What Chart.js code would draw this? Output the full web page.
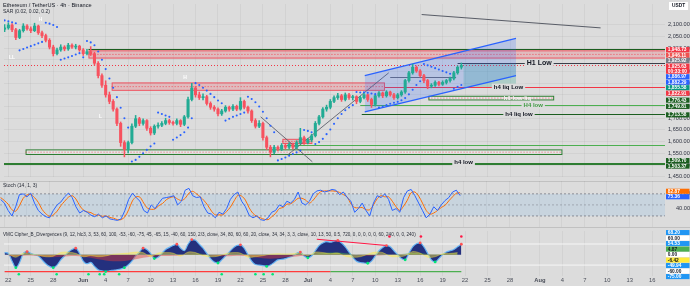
<!DOCTYPE html>
<html>
<head>
<meta charset="utf-8">
<script src="https://cdn.jsdelivr.net/npm/chart.js@4.4.0/dist/chart.umd.min.js"></script>
<style>
  html, body { margin: 0; padding: 0; background: #dcdcdc; overflow: hidden; }
  canvas { position: absolute; left: 0; display: block; }
</style>
</head>
<body>
<canvas id="priceChart" width="690" height="181" style="top:0"></canvas>
<canvas id="stochChart" width="690" height="46" style="top:181px"></canvas>
<canvas id="vmcChart" width="690" height="59" style="top:227px"></canvas>
<script>
// days counted from May 22, 12h candles from the picture
const dayTicks = [0, 3, 6, 10, 13, 16, 19, 22, 25, 28, 31, 34, 37, 40, 43, 46, 49, 52, 55, 58, 61, 64, 67, 71, 74, 77, 80, 83, 86];
const dayTickLabels = ['22', '25', '28', 'Jun', '4', '7', '10', '13', '16', '19', '22', '25', '28', 'Jul', '4', '7', '10', '13', '16', '19', '22', '25', '28', 'Aug', '4', '7', '10', '13', '16'];
const priceTicks = [1450, 1500, 1550, 1600, 1650, 1700, 1750, 1800, 1850, 1900, 1950, 2000, 2050, 2100];

const opens = [
  2080, 2086, 2098, 2078, 2045, 2074, 2094, 2082, 2074, 2094,
  2065, 2053, 2033, 2004, 1976, 1992, 2004, 1996, 2012, 2004,
  2008, 1992, 1976, 1984, 1976, 1935, 1882, 1841, 1800, 1772,
  1739, 1678, 1596, 1568, 1596, 1666, 1698, 1678, 1690, 1657,
  1637, 1666, 1670, 1678, 1690, 1682, 1678, 1690, 1674, 1706,
  1780, 1829, 1800, 1788, 1792, 1763, 1747, 1739, 1719, 1731,
  1747, 1739, 1751, 1739, 1772, 1747, 1731, 1690, 1666, 1678,
  1617, 1576, 1555, 1576, 1568, 1584, 1576, 1588, 1576, 1596,
  1617, 1596, 1608, 1625, 1678, 1706, 1739, 1747, 1772, 1788,
  1796, 1780, 1800, 1788, 1792, 1772, 1788, 1800, 1780, 1759,
  1796, 1808, 1796, 1812, 1800, 1788, 1800, 1812, 1861, 1894,
  1918, 1902, 1882, 1861, 1837, 1841, 1853, 1845, 1853, 1861,
  1870, 1894, 1918
];
const highs = [
  2100, 2108, 2104, 2084, 2080, 2104, 2100, 2090, 2106, 2098,
  2072, 2060, 2040, 2012, 2000, 2014, 2010, 2020, 2018, 2016,
  2012, 1998, 1994, 2006, 1982, 1942, 1890, 1860, 1812, 1780,
  1745, 1684, 1604, 1602, 1676, 1712, 1704, 1698, 1694, 1664,
  1672, 1680, 1686, 1700, 1696, 1688, 1698, 1694, 1712, 1790,
  1849, 1836, 1812, 1804, 1798, 1770, 1754, 1744, 1738, 1754,
  1752, 1758, 1756, 1788, 1778, 1752, 1736, 1698, 1690, 1684,
  1624, 1584, 1584, 1582, 1592, 1590, 1596, 1594, 1604, 1657,
  1624, 1614, 1632, 1686, 1712, 1746, 1756, 1780, 1796, 1806,
  1802, 1808, 1806, 1798, 1796, 1794, 1808, 1804, 1786, 1800,
  1814, 1812, 1818, 1816, 1806, 1806, 1818, 1866, 1900, 1931,
  1924, 1908, 1888, 1866, 1848, 1860, 1858, 1860, 1866, 1876,
  1900, 1924, 1936
];
const lows = [
  2070, 2080, 2070, 2036, 2040, 2068, 2076, 2066, 2070, 2058,
  2044, 2026, 1996, 1966, 1970, 1986, 1988, 1990, 1998, 1996,
  1986, 1968, 1970, 1968, 1926, 1872, 1832, 1790, 1762, 1730,
  1668, 1580, 1535, 1552, 1590, 1660, 1668, 1670, 1648, 1628,
  1630, 1658, 1664, 1672, 1674, 1670, 1672, 1664, 1668, 1700,
  1774, 1790, 1780, 1778, 1756, 1738, 1730, 1710, 1712, 1726,
  1730, 1732, 1732, 1734, 1740, 1722, 1682, 1658, 1660, 1606,
  1566, 1535, 1548, 1560, 1562, 1568, 1570, 1568, 1570, 1590,
  1588, 1590, 1600, 1620, 1672, 1700, 1730, 1740, 1766, 1780,
  1772, 1774, 1780, 1778, 1762, 1766, 1782, 1772, 1746, 1752,
  1790, 1788, 1790, 1794, 1780, 1782, 1794, 1806, 1854, 1888,
  1896, 1876, 1852, 1826, 1830, 1836, 1838, 1840, 1846, 1854,
  1864, 1888, 1910
];
const closes = [
  2086, 2098, 2078, 2045, 2074, 2094, 2082, 2074, 2094, 2065,
  2053, 2033, 2004, 1976, 1992, 2004, 1996, 2012, 2004, 2008,
  1992, 1976, 1984, 1976, 1935, 1882, 1841, 1800, 1772, 1739,
  1678, 1596, 1568, 1596, 1666, 1698, 1678, 1690, 1657, 1637,
  1666, 1670, 1678, 1690, 1682, 1678, 1690, 1674, 1706, 1780,
  1829, 1800, 1788, 1792, 1763, 1747, 1739, 1719, 1731, 1747,
  1739, 1751, 1739, 1772, 1747, 1731, 1690, 1666, 1678, 1617,
  1576, 1555, 1576, 1568, 1584, 1576, 1588, 1576, 1596, 1617,
  1596, 1608, 1625, 1678, 1706, 1739, 1747, 1772, 1788, 1796,
  1780, 1800, 1788, 1792, 1772, 1788, 1800, 1780, 1759, 1796,
  1808, 1796, 1812, 1800, 1788, 1800, 1812, 1861, 1894, 1918,
  1902, 1882, 1861, 1837, 1841, 1853, 1845, 1853, 1861, 1870,
  1894, 1918, 1925.63
];
const sarValues = [
  2118, 2114, 2110, 2106, 1990, 1996, 2002, 2008, 2014, 2020,
  2026, 2108, 2104, 2098, 2090, 1950, 1955, 1960, 1966, 1972,
  1978, 1960, 2030, 2024, 2012, 1985, 1950, 1910, 1870, 1830,
  1790, 1745, 1700, 1660, 1515, 1522, 1535, 1550, 1565, 1580,
  1592, 1724, 1718, 1712, 1706, 1608, 1618, 1628, 1640, 1660,
  1700, 1850, 1842, 1830, 1818, 1804, 1790, 1776, 1764, 1690,
  1698, 1706, 1712, 1718, 1724, 1792, 1782, 1768, 1750, 1728,
  1700, 1668, 1640, 1520, 1526, 1532, 1540, 1547, 1554, 1562,
  1650, 1646, 1640, 1590, 1598, 1612, 1632, 1652, 1676, 1700,
  1718, 1734, 1746, 1756, 1812, 1810, 1811, 1809, 1806, 1803,
  1746, 1750, 1756, 1762, 1766, 1770, 1777, 1786, 1802, 1822,
  1842, 1858, 1932, 1926, 1920, 1914, 1908, 1902, 1896, 1890,
  1826, 1834, 1842
];

const stochK = [
  65, 55, 35, 20, 45, 78, 80, 72, 82, 55,
  35, 25, 18, 15, 35, 50, 58, 72, 82, 70,
  45, 28, 35, 30, 22, 18, 25, 15, 20, 12,
  10, 8, 12, 35, 65, 82, 70, 60, 35, 28,
  50, 40, 55, 68, 70, 72, 75, 50, 60, 90,
  95, 75, 70, 72, 45, 28, 25, 15, 30, 25,
  40, 65, 78, 85, 60, 45, 22, 15, 20, 10,
  8, 15, 30, 35, 50, 45, 60, 55, 65, 85,
  55, 50, 60, 80, 88, 90, 85, 88, 92, 90,
  78, 85, 70, 60, 30, 40, 55, 35, 20, 55,
  75, 70, 80, 65, 35, 40, 30, 70, 88, 92,
  75, 55, 35, 15, 25, 45, 35, 50, 62, 70,
  85, 90, 75.36
];
const stochD = [
  70, 62, 52, 37, 33, 48, 68, 77, 78, 70,
  57, 38, 26, 19, 23, 33, 48, 60, 71, 75,
  66, 48, 36, 31, 29, 23, 22, 19, 20, 16,
  14, 10, 10, 18, 37, 61, 72, 71, 55, 41,
  38, 39, 48, 54, 64, 70, 72, 66, 62, 68,
  82, 87, 80, 72, 62, 49, 33, 23, 23, 23,
  32, 44, 61, 76, 74, 63, 42, 27, 19, 15,
  11, 10, 18, 27, 40, 43, 52, 53, 60, 68,
  68, 63, 55, 63, 76, 86, 88, 88, 88, 87,
  84, 78, 72, 53, 43, 42, 43, 37, 37, 50,
  67, 75, 72, 72, 60, 45, 35, 47, 63, 83,
  85, 74, 55, 35, 25, 28, 35, 43, 49, 61,
  72, 82, 82.87
];
const stochLevels = [80, 50, 20];

const waveTrend = [
  8, 5, -25, -50, -30, 5, 12, 5, 0, -5,
  -20, -35, -45, -50, -40, -20, -5, 10, 20, 25,
  5, -25, -35, -30, -45, -58, -62, -65, -62, -60,
  -58, -55, -50, -40, -25, -5, 10, 25, 20, 5,
  -15, -10, 5, 20, 28, 35, 40, 25, 15, 40,
  58, 55, 40, 25, 5, -15, -28, -32, -20, -5,
  10, 25, 35, 38, 25, 0, -25, -38, -40, -42,
  -45, -40, -30, -20, -18, -15, -10, -5, 5, 10,
  -5, -12, -5, 15, 35, 45, 50, 48, 52, 55,
  45, 30, 10, -10, -25, -30, -32, -33, -25, -5,
  15, 28, 35, 30, 15, 0, -15, -20, 5, 30,
  42, 45, 30, 5, -20, -28, -15, 0, 10, 15,
  20, 30, 40
];
// one value per day, day 0 .. 60
const moneyFlow = [
  -5, -6, -4, -3, -5, -8, -10, -8, -6, -5,
  -8, -12, -18, -22, -25, -25, -22, -18, -12, -8,
  -6, -5, -4, -3, 2, 4, 3, -2, -5, -6,
  -5, -4, -6, -10, -14, -16, -14, -10, -8, -5,
  -2, 3, 6, 8, 8, 5, 2, -2, -4, -3,
  -2, 0, 2, 4, 6, 5, 3, 2, 3, 4,
  5
];
const vwapWave = [
  4, -10, 6, 3, -2, -8, -6, 8, 10, 5,
  -8, -4, -8, -5, 2, 4, 6, 10, 8, -8,
  6, 8, 6, -6, 10, 8, -4, -8, -6, 4,
  8, 6, -10, -8, -4, 2, 4, 3, 4, 6,
  -4, 10, 8, 4, 6, -6, -10, -8, 2, 10,
  8, -6, -8, -4, 12, 6, -10, -8, 4, 5,
  8
];
const wavePeaks = [[2.5, 12], [9, 25], [18, 25], [22.5, 40], [24.5, 58], [31, 38], [39, 10], [44, 55], [50.5, 35], [55, 45], [60.5, 40]];
const waveTroughs = [[1, -50], [6, -50], [13, -65], [15.5, -50], [19.5, -15], [28, -32], [34.5, -45], [40, -12], [48, -33], [53, -20], [57, -28]];
const vmcLevels = [41, -40];
const signalLevel = -65;
const signalTurnDay = 43;
const buyDotDays = [1.4, 6.45, 10.7, 12.2, 12.8, 14.8, 28.5, 33.0, 34.1, 35.3];
const buyDotLevel = -75;
const sellDotDays = [50.9, 55.1, 60.5];
const sellDotLevel = 70;
const divergenceLine = [[41.2, 59], [50.5, 35]];

// drawings on the price pane: [dayFrom, dayTo, priceTop, priceBottom]
const supplyZones = [[10.7, 88, 1990, 1955], [13.8, 50.3, 1853, 1817], [36.6, 40.6, 1612, 1590]];
const demandZones = [[56.1, 72.9, 1796, 1776], [2.3, 74, 1567, 1543]];
const positionBox = [60.8, 67.8, 1935, 1833];
const channelUpper = [[47.6, 1882], [67.8, 2041]];
const channelLower = [[47.6, 1727], [67.8, 1882]];
const trendLines = [
  [[55.2, 2143], [79.1, 2086]],
  [[33.7, 1706], [40.6, 1514]],
  [[37.3, 1543], [50.8, 1894]],
  [[51, 1874], [59.8, 1874]]
];
const levelLines = [
  { from: 10.7, price: 1994, text: '' },
  { from: 60.0, price: 1935, text: 'H1 Low', at: 70.9 },
  { from: 50.3, price: 1833, text: 'h4 liq Low', at: 66.8 },
  { from: 47.0, price: 1755, text: 'H4 low', at: 70.1 },
  { from: 47.2, price: 1718, text: 'h4 liq low', at: 68.2 },
  { from: 37.0, price: 1584, text: '' },
  { from: -0.6, price: 1510, text: 'h4 low', at: 60.8 },
  { from: -0.6, price: 1503.4, text: '' }
];
const boxLabels = [{ day: 68.0, price: 1786, text: 'h1 low liq' }];
const pivotLabels = [
  { day: 0.5, price: 1959, text: 'LL' },
  { day: 4.3, price: 2122, text: 'H' },
  { day: 12.3, price: 1706, text: 'L' },
  { day: 23.6, price: 1874, text: 'H' }
];
const priceMarks = [
  { value: 1948.73, text: '1,948.73' },
  { value: 1946.11, text: '1,946.11' },
  { value: 1925.92, text: '1,925.92' },
  { value: 1925.63, text: '1,925.63', sub: '00:33:00' },
  { value: 1886.97, text: '1,886.97' },
  { value: 1882.29, text: '1,882.29' },
  { value: 1855.58, text: '1,855.58' },
  { value: 1822.91, text: '1,822.91' },
  { value: 1776.43, text: '1,776.43' },
  { value: 1749.81, text: '1,749.81' },
  { value: 1713.58, text: '1,713.58' },
  { value: 1509.70, text: '1,509.70' },
  { value: 1503.37, text: '1,503.37' }
];
const stochMarks = [{ value: 82.87, text: '82.87' }, { value: 75.36, text: '75.36' }];
const stochTicks = [40, 80];
const vmcMarks = [
  { value: 68.20, text: '68.20' },
  { value: 60, text: '60.00' },
  { value: 54.53, text: '54.53' },
  { value: 4.87, text: '4.87' },
  { value: 0, text: '0.00' },
  { value: -6.42, text: '-6.42' },
  { value: -49.94, text: '-49.94' },
  { value: -60, text: '-60.00' },
  { value: -75, text: '-75.00' }
];

// ---- styling / layout ----
const FONT = "'Liberation Sans', Arial, sans-serif";
const GRID = 'rgba(0,0,0,0.045)';
const UP = '#22ab94';
const DOWN = '#f7525f';
const X_MIN = -0.58;
const X_MAX = 87.7;
const AXIS_W = 25;

Chart.defaults.font.family = FONT;
Chart.defaults.animation = false;

const candleDays = opens.map((_, i) => -0.5 + i * 0.5);
const flowDays = moneyFlow.map((_, i) => i);
const candleColors = closes.map((c, i) => (c >= opens[i] ? UP : DOWN));

function setDayTicks(scale) { scale.ticks = dayTicks.map(v => ({ value: v })); }
function noPadding(scale) { scale.paddingTop = 0; scale.paddingBottom = 0; scale.paddingLeft = 0; scale.paddingRight = 0; }
function pts(pairs) { return pairs.map(p => ({ x: p[0], y: p[1] })); }
function flat(v) { return [{ x: X_MIN, y: v }, { x: X_MAX, y: v }]; }
function fmt(v) { return v.toLocaleString('en-US', { minimumFractionDigits: 2, maximumFractionDigits: 2 }); }

function hiddenX() {
  return {
    type: 'linear', min: X_MIN, max: X_MAX, offset: false,
    grid: { color: GRID, drawTicks: false, offset: false },
    border: { display: false },
    ticks: { display: false },
    afterBuildTicks: setDayTicks,
    afterFit: s => { s.height = 0; noPadding(s); }
  };
}

function drawAxisBoxes(chart, scaleId, marks, styles) {
  const { ctx, chartArea } = chart;
  const scale = chart.scales[scaleId];
  const left = chartArea.right + 1;
  const w = 23.5;
  const items = marks.map((m, i) => ({ m, st: styles[i], h: m.sub ? 10.6 : 5.5, y: scale.getPixelForValue(m.value) }));
  items.sort((a, b) => a.y - b.y);
  const groups = items.map(it => ({ list: [it], top: it.y - it.h / 2, h: it.h }));
  let merged = true;
  while (merged) {
    merged = false;
    for (let i = 0; i < groups.length - 1; i++) {
      const a = groups[i], b = groups[i + 1];
      if (a.top + a.h > b.top + 0.01) {
        const list = a.list.concat(b.list);
        const h = a.h + b.h;
        const c = list.reduce((s, it) => s + it.y, 0) / list.length;
        groups.splice(i, 2, { list, top: c - h / 2, h });
        merged = true;
        break;
      }
    }
  }
  ctx.save();
  ctx.textBaseline = 'middle';
  ctx.textAlign = 'left';
  ctx.font = 'bold 4.8px ' + FONT;
  groups.forEach(g => {
    let t = g.top;
    g.list.forEach(it => {
      ctx.fillStyle = it.st.bg;
      ctx.fillRect(left, t, w, it.h - 0.4);
      ctx.fillStyle = it.st.fg;
      if (it.m.sub) {
        ctx.fillText(it.m.text, left + 1.8, t + 2.7);
        ctx.fillText(it.m.sub, left + 1.8, t + 7.8);
      } else {
        ctx.fillText(it.m.text, left + 1.8, t + it.h / 2);
      }
      t += it.h;
    });
  });
  ctx.restore();
}

// ---- price pane ----
const priceDrawings = {
  id: 'priceDrawings',
  beforeDatasetsDraw(chart) {
    const { ctx, chartArea: a, scales: { x, y } } = chart;
    ctx.save();
    ctx.beginPath();
    ctx.rect(a.left, a.top, a.width, a.height);
    ctx.clip();
    const box = (z, fill, stroke, mid) => {
      const x1 = x.getPixelForValue(z[0]), x2 = x.getPixelForValue(z[1]);
      const y1 = y.getPixelForValue(z[2]), y2 = y.getPixelForValue(z[3]);
      ctx.fillStyle = fill;
      ctx.fillRect(x1, y1, x2 - x1, y2 - y1);
      ctx.strokeStyle = stroke;
      ctx.lineWidth = 1;
      ctx.strokeRect(x1 + 0.5, y1 + 0.5, x2 - x1 - 1, y2 - y1 - 1);
      if (mid) {
        ctx.setLineDash([1, 2]);
        ctx.strokeStyle = mid;
        ctx.beginPath();
        ctx.moveTo(x1, (y1 + y2) / 2);
        ctx.lineTo(x2, (y1 + y2) / 2);
        ctx.stroke();
        ctx.setLineDash([]);
      }
    };
    // position tool
    {
      const x1 = x.getPixelForValue(positionBox[0]), x2 = x.getPixelForValue(positionBox[1]);
      const y1 = y.getPixelForValue(positionBox[2]), y2 = y.getPixelForValue(positionBox[3]);
      ctx.fillStyle = 'rgba(8,153,129,0.22)';
      ctx.fillRect(x1, y1, x2 - x1, y2 - y1);
    }
    supplyZones.forEach(z => box(z, 'rgba(242,54,69,0.2)', 'rgba(242,54,69,0.75)', 'rgba(242,54,69,0.8)'));
    demandZones.forEach(z => box(z, 'rgba(255,255,255,0.25)', '#2e7d32', 'rgba(242,54,69,0.75)'));

    const levelStyles = ['#1b5e20', '#3b3f4a', '#f23645', '#4caf50', '#1b5e20', '#4caf50', '#2e7d32', '#2e7d32'];
    levelLines.forEach((l, i) => {
      const py = Math.round(y.getPixelForValue(l.price)) + 0.5;
      ctx.strokeStyle = levelStyles[i];
      ctx.lineWidth = 1.2;
      ctx.beginPath();
      ctx.moveTo(x.getPixelForValue(l.from), py);
      ctx.lineTo(a.right, py);
      ctx.stroke();
    });
    // last price dotted line
    const lp = Math.round(y.getPixelForValue(closes[closes.length - 1])) + 0.5;
    ctx.setLineDash([1, 2]);
    ctx.strokeStyle = '#f23645';
    ctx.lineWidth = 1;
    ctx.beginPath();
    ctx.moveTo(a.left, lp);
    ctx.lineTo(a.right, lp);
    ctx.stroke();
    ctx.setLineDash([]);
    ctx.restore();
  },
  afterDatasetsDraw(chart) {
    const { ctx, scales: { x, y } } = chart;
    ctx.save();
    ctx.textBaseline = 'middle';
    ctx.textAlign = 'center';
    const labelStyles = ['', '#131722', '#131722', '#3f9a43', '#131722', '', '#131722', ''];
    levelLines.forEach((l, i) => {
      if (!l.text) return;
      ctx.font = (i === 1 ? 'bold 7px ' : 'bold 6px ') + FONT;
      const px = x.getPixelForValue(l.at), py = y.getPixelForValue(l.price);
      const tw = ctx.measureText(l.text).width;
      ctx.fillStyle = '#dcdcdc';
      ctx.fillRect(px - tw / 2 - 2, py - 3.5, tw + 4, 7);
      ctx.fillStyle = labelStyles[i];
      ctx.fillText(l.text, px, py);
    });
    ctx.font = 'bold 6px ' + FONT;
    boxLabels.forEach(b => {
      ctx.fillStyle = '#f4f4f4';
      ctx.fillText(b.text, x.getPixelForValue(b.day), y.getPixelForValue(b.price));
    });
    ctx.font = 'bold 5px ' + FONT;
    ctx.fillStyle = '#ffffff';
    pivotLabels.forEach(p => ctx.fillText(p.text, x.getPixelForValue(p.day), y.getPixelForValue(p.price)));
    ctx.restore();
  },
  afterDraw(chart) {
    const { ctx } = chart;
    drawAxisBoxes(chart, 'y', priceMarks, [
      { bg: '#f23645', fg: '#fff' }, { bg: '#ef5350', fg: '#fff' }, { bg: '#787b86', fg: '#fff' },
      { bg: '#f23645', fg: '#fff' }, { bg: '#2962ff', fg: '#fff' }, { bg: '#2962ff', fg: '#fff' },
      { bg: '#089981', fg: '#fff' }, { bg: '#f23645', fg: '#fff' }, { bg: '#1b5e20', fg: '#fff' },
      { bg: '#1b5e20', fg: '#fff' }, { bg: '#1b5e20', fg: '#fff' }, { bg: '#1b5e20', fg: '#fff' },
      { bg: '#1b5e20', fg: '#fff' }
    ]);
    ctx.save();
    ctx.fillStyle = '#ffffff';
    ctx.fillRect(669, 2, 19, 8);
    ctx.fillStyle = '#131722';
    ctx.font = 'bold 4.8px ' + FONT;
    ctx.textBaseline = 'middle';
    ctx.fillText('USDT', 672, 6);
    ctx.font = '5.6px ' + FONT;
    ctx.fillText('Ethereum / TetherUS · 4h · Binance', 3, 5);
    ctx.font = '5px ' + FONT;
    ctx.fillStyle = '#2a2e39';
    ctx.fillText('SAR (0.02, 0.02, 0.2)', 3, 12);
    ctx.restore();
  }
};

new Chart(document.getElementById('priceChart'), {
  type: 'bar',
  data: {
    datasets: [
      {
        type: 'line', label: 'SAR', order: 0,
        data: candleDays.map((d, i) => ({ x: d, y: sarValues[i] })),
        showLine: false, pointRadius: 1.05, pointBorderWidth: 0,
        pointBackgroundColor: '#2962ff'
      },
      {
        label: 'bodies', order: 1, grouped: false,
        data: candleDays.map((d, i) => ({ x: d, y: [opens[i], closes[i]] })),
        backgroundColor: candleColors, barThickness: 2.4, minBarLength: 1
      },
      {
        label: 'wicks', order: 2, grouped: false,
        data: candleDays.map((d, i) => ({ x: d, y: [lows[i], highs[i]] })),
        backgroundColor: candleColors, barThickness: 0.9
      },
      {
        type: 'line', label: 'channel top', order: 3,
        data: pts(channelUpper), borderColor: '#2962ff', borderWidth: 1.2, pointRadius: 0
      },
      {
        type: 'line', label: 'channel bottom', order: 4,
        data: pts(channelLower), borderColor: '#2962ff', borderWidth: 1.2, pointRadius: 0,
        fill: '-1', backgroundColor: 'rgba(41,98,255,0.2)'
      },
      ...trendLines.map((t, i) => ({
        type: 'line', label: 'trend ' + i, order: 5,
        data: pts(t), borderColor: i === 0 ? '#4a4e59' : '#5d606b', borderWidth: 0.9, pointRadius: 0
      }))
    ]
  },
  options: {
    responsive: false,
    events: [],
    layout: { padding: 0 },
    plugins: { legend: { display: false }, tooltip: { enabled: false } },
    scales: {
      x: hiddenX(),
      y: {
        type: 'linear', position: 'right', min: 1449, max: 2188, beginAtZero: false,
        grid: { color: GRID, drawTicks: false },
        border: { display: false },
        ticks: { font: { size: 5.6 }, color: '#2f3340', padding: 3, callback: v => fmt(v) },
        afterBuildTicks: s => { s.ticks = priceTicks.map(v => ({ value: v })); },
        afterFit: s => { s.width = AXIS_W; noPadding(s); }
      }
    }
  },
  plugins: [priceDrawings]
});

// ---- stochastic pane ----
new Chart(document.getElementById('stochChart'), {
  type: 'line',
  data: {
    datasets: [
      {
        label: 'K', order: 0,
        data: candleDays.map((d, i) => ({ x: d, y: stochK[i] })),
        borderColor: '#2962ff', borderWidth: 1, pointRadius: 0
      },
      {
        label: 'D', order: 1,
        data: candleDays.map((d, i) => ({ x: d, y: stochD[i] })),
        borderColor: '#ff6d00', borderWidth: 1, pointRadius: 0, tension: 0.3
      },
      {
        label: 'upper band', order: 2, data: flat(stochLevels[0]),
        borderColor: '#787b86', borderWidth: 0.8, borderDash: [2, 2], pointRadius: 0
      },
      {
        label: 'mid band', order: 3, data: flat(stochLevels[1]),
        borderColor: 'rgba(120,123,134,0.6)', borderWidth: 0.8, borderDash: [2, 2], pointRadius: 0
      },
      {
        label: 'lower band', order: 4, data: flat(stochLevels[2]),
        borderColor: '#787b86', borderWidth: 0.8, borderDash: [2, 2], pointRadius: 0,
        fill: 2, backgroundColor: 'rgba(33,150,243,0.1)'
      }
    ]
  },
  options: {
    responsive: false,
    events: [],
    layout: { padding: 0 },
    plugins: { legend: { display: false }, tooltip: { enabled: false } },
    scales: {
      x: hiddenX(),
      y: {
        type: 'linear', position: 'right', min: -10, max: 115,
        grid: { display: false },
        border: { display: false },
        ticks: { font: { size: 5.6 }, color: '#2f3340', padding: 3, callback: v => fmt(v) },
        afterBuildTicks: s => { s.ticks = stochTicks.map(v => ({ value: v })); },
        afterFit: s => { s.width = AXIS_W; noPadding(s); }
      }
    }
  },
  plugins: [{
    id: 'stochText',
    afterDraw(chart) {
      const { ctx } = chart;
      drawAxisBoxes(chart, 'y', stochMarks, [{ bg: '#ff6d00', fg: '#fff' }, { bg: '#2962ff', fg: '#fff' }]);
      ctx.save();
      ctx.fillStyle = 'rgba(0,0,0,0.12)';
      ctx.fillRect(0, 0, 690, 1);
      ctx.fillStyle = '#2a2e39';
      ctx.font = '5px ' + FONT;
      ctx.textBaseline = 'middle';
      ctx.fillText('Stoch (14, 1, 3)', 3, 5);
      ctx.restore();
    }
  }]
});

// ---- VMC pane ----
new Chart(document.getElementById('vmcChart'), {
  type: 'line',
  data: {
    datasets: [
      {
        label: 'buy dots', order: 0, showLine: false,
        data: buyDotDays.map(d => ({ x: d, y: buyDotLevel })),
        pointRadius: 1.3, pointBorderWidth: 0, pointBackgroundColor: '#00e676'
      },
      {
        label: 'sell dots', order: 0, showLine: false,
        data: sellDotDays.map(d => ({ x: d, y: sellDotLevel })),
        pointRadius: 1.3, pointBorderWidth: 0, pointBackgroundColor: '#ff1744'
      },
      {
        label: 'peaks', order: 0, showLine: false,
        data: pts(wavePeaks), pointRadius: 1.4, pointBorderWidth: 0, pointBackgroundColor: '#ff5252'
      },
      {
        label: 'troughs', order: 0, showLine: false,
        data: pts(waveTroughs), pointRadius: 1.4, pointBorderWidth: 0, pointBackgroundColor: '#00e676'
      },
      {
        label: 'divergence', order: 1, data: pts(divergenceLine),
        borderColor: '#ff1744', borderWidth: 1.1, pointRadius: 0
      },
      {
        label: 'signal sell', order: 1,
        data: [{ x: candleDays[0], y: signalLevel }, { x: signalTurnDay, y: signalLevel }],
        borderColor: '#ff3b3b', borderWidth: 1.3, pointRadius: 0
      },
      {
        label: 'signal buy', order: 1,
        data: [{ x: signalTurnDay, y: signalLevel }, { x: candleDays[candleDays.length - 1], y: signalLevel }],
        borderColor: '#4caf50', borderWidth: 1.3, pointRadius: 0
      },
      {
        label: 'vwap', order: 2,
        data: flowDays.map((d, i) => ({ x: d, y: vwapWave[i] })),
        borderColor: 'rgba(255,235,59,0.6)', borderWidth: 0.6, pointRadius: 0, tension: 0.35,
        fill: 'origin', backgroundColor: 'rgba(255,235,59,0.45)'
      },
      {
        label: 'money flow', order: 3,
        data: flowDays.map((d, i) => ({ x: d, y: moneyFlow[i] })),
        borderColor: 'rgba(0,0,0,0)', pointRadius: 0, tension: 0.35,
        fill: { target: 'origin', above: 'rgba(76,175,80,0.55)', below: 'rgba(229,57,53,0.45)' }
      },
      {
        label: 'wave', order: 4,
        data: candleDays.map((d, i) => ({ x: d, y: waveTrend[i] })),
        borderColor: 'rgba(100,181,246,0.95)', borderWidth: 1.2, pointRadius: 0,
        cubicInterpolationMode: 'monotone',
        fill: 'origin', backgroundColor: '#24307e'
      },
      ...vmcLevels.map((v, i) => ({
        label: 'level ' + i, order: 5, data: flat(v),
        borderColor: 'rgba(255,255,255,0.85)', borderWidth: 0.9, pointRadius: 0
      }))
    ]
  },
  options: {
    responsive: false,
    events: [],
    layout: { padding: 0 },
    plugins: { legend: { display: false }, tooltip: { enabled: false } },
    scales: {
      x: {
        type: 'linear', min: X_MIN, max: X_MAX, offset: false,
        grid: { color: GRID, drawTicks: false, offset: false },
        border: { display: false },
        ticks: {
          autoSkip: false, maxRotation: 0, padding: 1, color: '#4a4e59',
          font: ctx => ({ size: 5.8, weight: /[A-Za-z]/.test(dayTickLabels[ctx.index] || '') ? 'bold' : 'normal' }),
          callback: (v, i) => dayTickLabels[i]
        },
        afterBuildTicks: setDayTicks,
        afterFit: s => { s.height = 10; noPadding(s); }
      },
      y: {
        type: 'linear', position: 'right', min: -82, max: 91,
        grid: { display: false },
        border: { display: false },
        ticks: { display: false },
        afterFit: s => { s.width = AXIS_W; noPadding(s); }
      }
    }
  },
  plugins: [{
    id: 'vmcText',
    afterDraw(chart) {
      const { ctx } = chart;
      drawAxisBoxes(chart, 'y', vmcMarks, [
        { bg: '#2196f3', fg: '#fff' }, { bg: '#ffffff', fg: '#131722' }, { bg: '#2196f3', fg: '#fff' },
        { bg: '#4caf50', fg: '#131722' }, { bg: '#ffffff', fg: '#131722' }, { bg: '#ffeb3b', fg: '#131722' },
        { bg: '#2196f3', fg: '#fff' }, { bg: '#ffffff', fg: '#131722' }, { bg: '#2196f3', fg: '#fff' }
      ]);
      ctx.save();
      ctx.fillStyle = 'rgba(0,0,0,0.12)';
      ctx.fillRect(0, 0, 690, 1);
      ctx.fillStyle = '#2a2e39';
      ctx.font = '4.6px ' + FONT;
      ctx.textBaseline = 'middle';
      ctx.fillText('VMC Cipher_B_Divergences (9, 12, hlc3, 3, 53, 60, 100, -53, -60, -75, 45, -65, 15, -40, 60, 150, 2/3, close, 34, 80, 60, 60, 20, close, 34, 34, 3, 3, close, 10, 13, 50, 0.5, 720, 0, 0, 0, 0, 0, 60, 240, 0, 0, 240)', 3, 8);
      ctx.restore();
    }
  }]
});
</script>
</body>
</html>
